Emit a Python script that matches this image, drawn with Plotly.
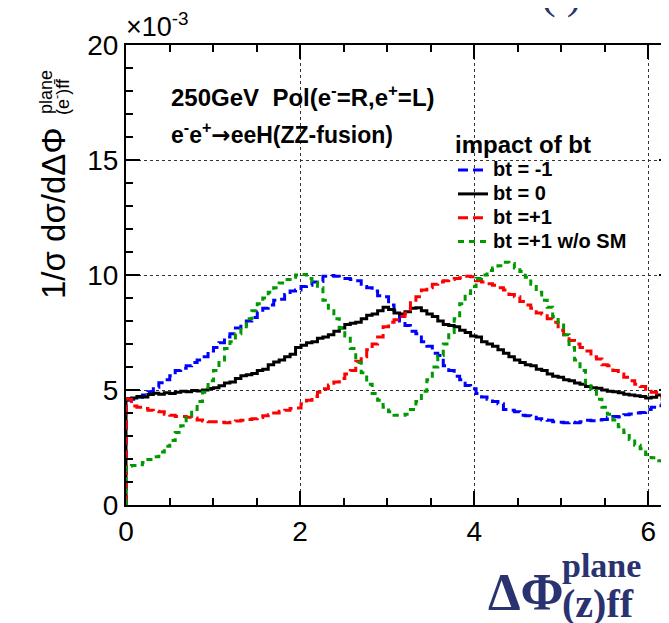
import numpy as np
import plotly.graph_objects as go

# ---------------- data (units of 1e-3) ----------------
X_MIN, X_MAX = 0.0, 2 * np.pi

bt_minus1 = [
    4.55, 4.60, 4.68, 4.78, 4.92, 5.12, 5.32, 5.45, 5.62, 5.85,
    5.95, 6.05, 6.20, 6.30, 6.45, 6.70, 6.85, 7.05, 7.30, 7.45,
    7.70, 7.85, 8.00, 8.15, 8.40, 8.55, 8.70, 8.90, 8.95, 9.15,
    9.30, 9.35, 9.50, 9.55, 9.70, 9.72, 9.95, 9.98, 9.95, 9.85,
    9.85, 9.80, 9.75, 9.50, 9.45, 9.30, 9.10, 9.05, 8.70, 8.45,
    8.00, 7.80, 7.55, 7.45, 7.10, 6.90, 6.60, 6.50, 6.05, 5.85,
    5.60, 5.45, 5.20, 5.05, 4.85, 4.70, 4.60, 4.50, 4.40, 4.15,
    4.12, 4.05, 3.90, 3.88, 3.82, 3.75, 3.70, 3.68, 3.62, 3.60,
    3.58, 3.60, 3.58, 3.62, 3.68, 3.66, 3.70, 3.72, 3.80, 3.85,
    3.83, 3.92, 3.96, 4.00, 4.02, 4.15, 4.25, 4.32, 4.40, 4.50,
]

bt_zero = [
    4.62, 4.65, 4.72, 4.70, 4.80, 4.86, 4.82, 4.88, 4.85, 4.90,
    4.95, 4.92, 4.98, 4.96, 5.00, 5.06, 5.10, 5.18, 5.30, 5.35,
    5.50, 5.62, 5.66, 5.72, 5.85, 5.90, 6.10, 6.22, 6.30, 6.45,
    6.55, 6.85, 6.95, 7.05, 7.10, 7.25, 7.30, 7.40, 7.55, 7.70,
    7.85, 7.90, 7.95, 8.10, 8.25, 8.30, 8.45, 8.60, 8.50, 8.35,
    8.30, 8.40, 8.55, 8.58, 8.45, 8.30, 8.20, 8.00, 7.85, 7.80,
    7.75, 7.60, 7.50, 7.35, 7.30, 7.10, 7.00, 6.90, 6.75, 6.60,
    6.45, 6.30, 6.20, 6.10, 6.05, 5.90, 5.85, 5.70, 5.60, 5.55,
    5.45, 5.40, 5.30, 5.25, 5.15, 5.10, 5.08, 5.00, 4.95, 4.92,
    4.88, 4.82, 4.78, 4.75, 4.72, 4.65, 4.68, 4.78, 4.72, 4.75,
]

bt_plus1 = [
    4.60, 4.30, 4.25, 4.20, 4.12, 4.08, 4.05, 3.95, 3.90, 3.85,
    3.85, 3.82, 3.78, 3.70, 3.65, 3.62, 3.62, 3.60, 3.58, 3.60,
    3.65, 3.68, 3.72, 3.75, 3.80, 3.88, 3.92, 4.00, 4.08, 4.12,
    4.20, 4.22, 4.40, 4.55, 4.72, 4.90, 5.05, 5.22, 5.35, 5.50,
    5.70, 5.85, 6.25, 6.45, 6.75, 7.00, 7.30, 7.75, 7.95, 8.05,
    8.20, 8.35, 8.90, 9.05, 9.35, 9.45, 9.60, 9.70, 9.75, 9.80,
    9.85, 9.88, 9.95, 9.92, 9.75, 9.70, 9.62, 9.55, 9.45, 9.35,
    9.15, 9.05, 8.85, 8.70, 8.55, 8.35, 8.30, 8.10, 7.95, 7.60,
    7.40, 7.15, 7.00, 6.85, 6.70, 6.45, 6.35, 6.10, 6.05, 5.85,
    5.70, 5.55, 5.40, 5.25, 5.15, 4.95, 4.90, 4.75, 4.60, 4.50,
]

bt_plus1_noSM = [
    1.70, 1.72, 1.75, 1.85, 1.98, 2.10, 2.30, 2.55, 2.80, 3.15,
    3.45, 3.80, 4.15, 4.50, 4.90, 5.40, 5.85, 6.30, 6.80, 7.10,
    7.45, 7.75, 8.10, 8.45, 8.75, 9.00, 9.25, 9.45, 9.65, 9.80,
    9.90, 10.00, 10.02, 9.85, 9.70, 9.45, 8.90, 8.45, 8.10, 7.70,
    7.35, 6.80, 6.20, 5.75, 5.25, 4.85, 4.55, 4.25, 4.05, 3.90,
    3.90, 3.95, 4.15, 4.50, 4.95, 5.45, 6.00, 6.50, 7.00, 7.50,
    8.10, 8.75, 9.20, 9.50, 9.85, 10.00, 10.20, 10.30, 10.40, 10.55,
    10.50, 10.30, 10.15, 9.90, 9.60, 9.25, 8.90, 8.60, 8.20, 7.90,
    7.40, 6.85, 6.30, 5.85, 5.30, 4.95, 4.60, 4.25, 3.95, 3.70,
    3.40, 3.15, 2.85, 2.60, 2.45, 2.20, 2.05, 1.92, 1.82, 1.72,
]

series_names = ["bt = -1", "bt = 0", "bt =+1", "bt =+1 w/o SM"]
x_tick_vals = [0, 2, 4, 6]
y_tick_vals = [0, 5, 10, 15, 20]

# ---------------- layout constants ----------------
W, H = 669, 623
L, R, T, B = 118, 4, 37, 126
PW, PH = W - L - R, H - T - B
NAVY = "#2a3270"
SANS = "Liberation Sans, Arial, Helvetica, sans-serif"
SERIF = "Liberation Serif, Times New Roman, serif"


def px(x):
    return (x - L) / PW


def py(y):
    return (H - B - y) / PH


def hist_xy(vals):
    edges = np.linspace(X_MIN, X_MAX, len(vals) + 1)
    x = np.concatenate([[X_MIN], edges])
    y = [0.0] + list(vals) + [vals[-1]]
    return x, y


styles = [
    dict(color="#0000ff", dash="10px,5px"),
    dict(color="#000000", dash="solid"),
    dict(color="#ff0000", dash="10px,5px"),
    dict(color="#009900", dash="6px,5px"),
]

fig = go.Figure()
for vals, name, st in zip([bt_minus1, bt_zero, bt_plus1, bt_plus1_noSM], series_names, styles):
    x, y = hist_xy(vals)
    fig.add_trace(go.Scatter(
        x=x, y=y, mode="lines",
        name='<span style="font-size:20px"><b>' + name + "</b></span>",
        line=dict(shape="hv", color=st["color"], width=3, dash=st["dash"]),
        hoverinfo="skip",
    ))

axis_common = dict(
    automargin=False,
    showline=True, linewidth=2, linecolor="black", mirror="ticks",
    ticks="inside", ticklen=14, tickwidth=2, tickcolor="black",
    showgrid=True, gridcolor="#333333", griddash="dot", gridwidth=1,
    zeroline=False,
    tickfont=dict(family=SANS, size=28, color="black"),
)

fig.update_xaxes(
    range=[X_MIN, X_MAX], tickmode="array", tickvals=x_tick_vals,
    ticktext=[str(v) for v in x_tick_vals],
    minor=dict(dtick=0.5, ticks="inside", ticklen=7, tickwidth=2, tickcolor="black", showgrid=False),
    **axis_common,
)
fig.update_yaxes(
    range=[0, 20], tickmode="array", tickvals=y_tick_vals,
    ticktext=[str(v) for v in y_tick_vals],
    minor=dict(dtick=1, ticks="inside", ticklen=7, tickwidth=2, tickcolor="black", showgrid=False),
    **axis_common,
)

ARROW = '<span style="font-family:DejaVu Sans">→</span>'

ann = []
# x10^-3 exponent
ann.append(dict(text="×10<sup>-3</sup>", x=px(116), y=py(36), xanchor="left", yanchor="bottom",
                font=dict(family=SANS, size=27, color="black")))
# y-axis title pieces (rotated, anchored at their centres)
ann.append(dict(text="1/σ dσ/dΔΦ", textangle=-90, x=px(45), y=py(205), xanchor="center", yanchor="middle",
                font=dict(family=SANS, size=33, color="black")))
ann.append(dict(text="plane", textangle=-90, x=px(38), y=py(84), xanchor="center", yanchor="middle",
                font=dict(family=SANS, size=18, color="black")))
ann.append(dict(text="(e<sup>-</sup>)ff\u0304", textangle=-90, x=px(53), y=py(89), xanchor="center", yanchor="middle",
                font=dict(family=SANS, size=18, color="black")))
# in-plot labels
ann.append(dict(text="<b>250GeV\u00a0\u00a0Pol(e<sup>-</sup>=R,e<sup>+</sup>=L)</b>", x=px(161), y=py(88),
                xanchor="left", yanchor="middle", font=dict(family=SANS, size=24, color="black")))
ann.append(dict(text="<b>e<sup>-</sup>e<sup>+</sup>" + ARROW + "eeH(ZZ-fusion)</b>", x=px(161), y=py(125),
                xanchor="left", yanchor="middle", font=dict(family=SANS, size=23, color="black")))
# x-axis title pieces
ann.append(dict(text="<b>ΔΦ</b>", x=px(558), y=py(584), xanchor="right", yanchor="middle",
                font=dict(family=SERIF, size=52, color=NAVY)))
ann.append(dict(text="<b>plane</b>", x=px(552), y=py(557), xanchor="left", yanchor="middle",
                font=dict(family=SERIF, size=34, color=NAVY)))
ann.append(dict(text="<b>(z)ff</b>", x=px(552), y=py(595), xanchor="left", yanchor="middle",
                font=dict(family=SERIF, size=40, color=NAVY)))
# cropped fragment at the top
ann.append(dict(text="( )", x=px(553), y=py(12), xanchor="center", yanchor="bottom",
                font=dict(family=SERIF, size=44, color=NAVY)))
for a in ann:
    a.update(xref="paper", yref="paper", showarrow=False)

fig.update_layout(
    width=W, height=H,
    margin=dict(l=L, r=R, t=T, b=B, pad=0, autoexpand=False),
    paper_bgcolor="white", plot_bgcolor="white",
    showlegend=True,
    legend=dict(
        x=px(445), y=py(114), xanchor="left", yanchor="top",
        bgcolor="rgba(0,0,0,0)", borderwidth=0,
        font=dict(family=SANS, size=16, color="black"),
        title=dict(text="<b>impact of bt</b>", font=dict(family=SANS, size=24, color="black")),
        tracegroupgap=0, itemwidth=30,
    ),
    annotations=ann,
)

fig.write_html("out.html")
